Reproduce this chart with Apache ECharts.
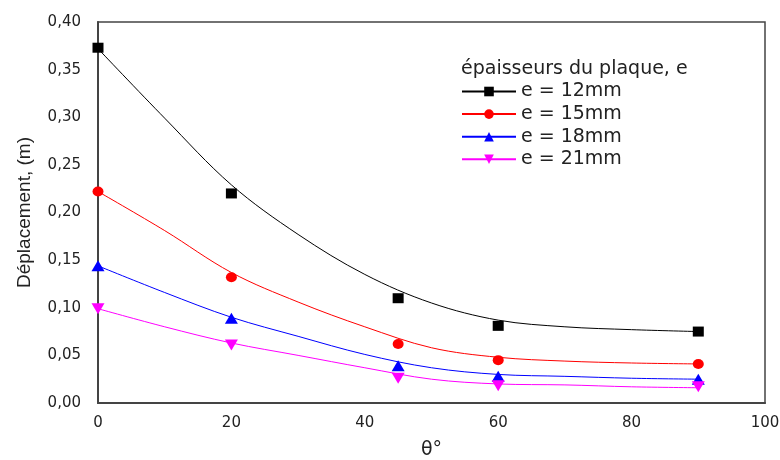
<!DOCTYPE html>
<html>
<head>
<meta charset="utf-8">
<script src="https://cdn.jsdelivr.net/npm/echarts@6/dist/echarts.min.js"></script>
<style>
  html, body { margin: 0; padding: 0; background: #fff; }
  #main { width: 780px; height: 460px; }
</style>
</head>
<body>
<div id="main"></div>
<script>
var anglesMesure = [0, 20, 45, 60, 90]
var anglesCourbe = [0, 10, 20, 30, 40, 50, 60, 70, 80, 90]

var noms = ['e = 12mm', 'e = 15mm', 'e = 18mm', 'e = 21mm']

// points mesurés (symboles)
var pts12 = [0.373, 0.220, 0.110, 0.081, 0.075]
var pts15 = [0.222, 0.132, 0.062, 0.045, 0.041]
var pts18 = [0.144, 0.089, 0.039, 0.028, 0.025]
var pts21 = [0.099, 0.061, 0.026, 0.018, 0.017]

// courbes lissées
var fit12 = [0.372, 0.299, 0.229, 0.177, 0.135, 0.105, 0.087, 0.080, 0.077, 0.075]
var fit15 = [0.222, 0.181, 0.137, 0.106, 0.080, 0.058, 0.048, 0.044, 0.042, 0.041]
var fit18 = [0.144, 0.116, 0.090, 0.070, 0.051, 0.037, 0.030, 0.028, 0.026, 0.025]
var fit21 = [0.099, 0.080, 0.063, 0.050, 0.037, 0.025, 0.020, 0.019, 0.017, 0.016]

var yTicks = [0, 0.05, 0.10, 0.15, 0.20, 0.25, 0.30, 0.35, 0.40]
var xTicks = [0, 20, 40, 60, 80, 100]

var couleurs = ['#000000', '#ff0000', '#0000ff', '#ff00ff']
var symboles = ['rect', 'circle', 'triangle', 'triangle']
var tailles = [[11, 10], [11, 10], [13, 11], [13, 11]]
var rotations = [0, 0, 0, 180]

function paires(xs, ys) {
    return xs.map(function (x, i) { return [x, ys[i]] })
}

var fits = [fit12, fit15, fit18, fit21]
var pts = [pts12, pts15, pts18, pts21]

var series = []
// 1. courbes (en premier pour l'icône de la légende)
fits.forEach(function (f, i) {
    series.push({
        name: noms[i],
        type: 'line',
        smooth: 0.35,
        data: paires(anglesCourbe, f),
        showSymbol: false,
        symbol: symboles[i],
        symbolRotate: rotations[i],
        symbolSize: tailles[i],
        lineStyle: { color: couleurs[i], width: 1 },
        itemStyle: { color: couleurs[i] },
        z: 2
    })
})
// 2. symboles mesurés
pts.forEach(function (p, i) {
    series.push({
        name: noms[i],
        type: 'scatter',
        data: paires(anglesMesure, p),
        symbol: symboles[i],
        symbolRotate: rotations[i],
        symbolSize: tailles[i],
        itemStyle: { color: couleurs[i], opacity: 1 },
        z: 3
    })
})

var myChart = echarts.init(document.getElementById('main'))

var option = {
    backgroundColor: '#fff',
    animation: false,
    title: {
        text: 'épaisseurs du plaque, e',
        left: 461,
        top: 60,
        padding: 0,
        textStyle: { fontFamily: 'DejaVu Sans', fontSize: 19, fontWeight: 'normal', color: '#222' }
    },
    legend: {
        orient: 'vertical',
        left: 461,
        top: 82,
        padding: 0,
        itemWidth: 54,
        itemHeight: 12,
        itemGap: 3.6,
        data: noms,
        textStyle: { fontFamily: 'DejaVu Sans', fontSize: 19, lineHeight: 19, color: '#222' }
    },
    grid: {
        left: 98,
        top: 22,
        right: 15,
        bottom: 57,
        outerBoundsMode: 'none',
        show: true,
        borderColor: '#444',
        borderWidth: 1.5
    },
    xAxis: {
        type: 'value',
        min: xTicks[0],
        max: xTicks[xTicks.length - 1],
        interval: 20,
        name: 'θ°',
        nameLocation: 'middle',
        nameGap: 38,
        nameTextStyle: { fontFamily: 'DejaVu Sans', fontSize: 19, color: '#222' },
        axisLine: { lineStyle: { color: '#444', width: 2 } },
        axisTick: { show: false },
        splitLine: { show: false },
        axisLabel: { margin: 13, fontFamily: 'DejaVu Sans', fontSize: 15, color: '#222' }
    },
    yAxis: {
        type: 'value',
        min: yTicks[0],
        max: yTicks[yTicks.length - 1],
        interval: 0.05,
        name: 'Déplacement, (m)',
        nameLocation: 'middle',
        nameGap: 64,
        nameRotate: 90,
        nameTextStyle: { fontFamily: 'Liberation Sans', fontSize: 19, color: '#222' },
        axisLine: { show: true, lineStyle: { color: '#444', width: 2 } },
        axisTick: { show: false },
        splitLine: { show: false },
        axisLabel: {
            margin: 17,
            fontFamily: 'DejaVu Sans',
            fontSize: 15,
            color: '#222',
            formatter: function (v) { return v.toFixed(2).replace('.', ',') }
        }
    },
    series: series
}

myChart.setOption(option)
window.addEventListener('resize', function () {
    myChart.resize()
})
</script>
</body>
</html>
